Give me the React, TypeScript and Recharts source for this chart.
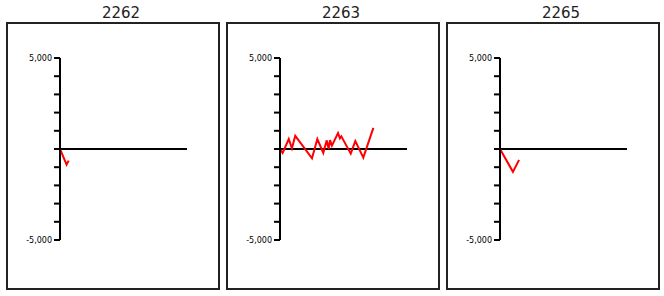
import React from "react";
import { LineChart, Line, XAxis, YAxis, ReferenceLine } from "recharts";

const panelTitles = ["2262", "2263", "2265"];

const x2262 = [0, 5.2, 6.8];
const y2262 = [0, -860, -640];

const x2263 = [0, 2.1, 6.9, 9.4, 12.0, 25.2, 29.4, 34.1, 36.8, 38.3, 39.4, 40.9, 45.7, 47.2, 48.3, 55.7, 59.3, 65.6, 73.5];
const y2263 = [0, -218, 546, 38, 726, -508, 546, -218, 475, 0, 491, 180, 874, 584, 693, -257, 437, -475, 1163];

const x2265 = [0, 10.2, 15];
const y2265 = [0, -1256, -600];

const yTicks = [-5000, -4000, -3000, -2000, -1000, 0, 1000, 2000, 3000, 4000, 5000];

const series = [
  { xs: x2262, ys: y2262 },
  { xs: x2263, ys: y2263 },
  { xs: x2265, ys: y2265 },
];

const FONT = "'DejaVu Sans', Verdana, sans-serif";

function fmt(v: number) {
  if (v === 5000) return "5,000";
  if (v === -5000) return "-5,000";
  return "";
}

function Panel({ title, xs, ys, left }: { title: string; xs: number[]; ys: number[]; left: number }) {
  const data = xs.map((x, i) => ({ x, y: ys[i] }));
  return (
    <div style={{ position: "absolute", left, top: 0, width: 220, height: 296 }}>
      <div
        style={{
          position: "absolute",
          left: 6,
          top: 22,
          width: 214,
          height: 268,
          border: "2px solid #222",
          boxSizing: "border-box",
        }}
      />
      <div
        style={{
          position: "absolute",
          left: 71,
          width: 100,
          top: 4,
          textAlign: "center",
          fontFamily: FONT,
          fontSize: 15,
          color: "#222",
          lineHeight: "18px",
        }}
      >
        {title}
      </div>
      <div style={{ position: "absolute", left: 0, top: 0 }}>
        <LineChart width={220} height={296} data={data} margin={{ top: 58, right: 33, bottom: 56, left: 10 }}>
          <XAxis dataKey="x" type="number" domain={[0, 100]} hide />
          <YAxis
            type="number"
            domain={[-5000, 5000]}
            ticks={yTicks}
            interval={0}
            width={50}
            tickFormatter={fmt}
            axisLine={{ stroke: "#000", strokeWidth: 2 }}
            tickLine={{ stroke: "#000", strokeWidth: 2 }}
            tickSize={6}
            tickMargin={2}
            tick={{ fill: "#000", fontSize: 8, fontFamily: FONT }}
            allowDataOverflow
          />
          <ReferenceLine y={0} stroke="#000" strokeWidth={2} />
          <Line
            dataKey="y"
            type="linear"
            stroke="#ff0000"
            strokeWidth={2}
            dot={false}
            isAnimationActive={false}
          />
        </LineChart>
      </div>
    </div>
  );
}

export default function App() {
  return (
    <div style={{ position: "fixed", left: 0, top: 0, width: 664, height: 296, background: "#fff" }}>
      {series.map((s, i) => (
        <Panel key={panelTitles[i]} title={panelTitles[i]} xs={s.xs} ys={s.ys} left={i * 220} />
      ))}
    </div>
  );
}
